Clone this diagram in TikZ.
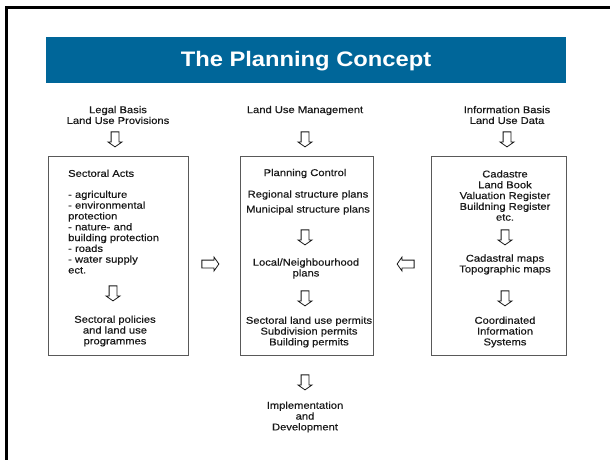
\documentclass[tikz,border=0pt]{standalone}
\usepackage{fontspec}
\setmainfont{Liberation Sans}[FakeStretch=1.13]
\newfontfamily\scanfont{Liberation Sans}[FakeStretch=1.13, FakeBold=0.35]
\usetikzlibrary{shapes.arrows}
\definecolor{titleblue}{RGB}{0,102,153}
\definecolor{inkgray}{RGB}{25,25,25}
\begin{document}
\begin{tikzpicture}[x=1pt,y=-1pt,
  txt/.style={font=\scanfont\fontsize{9.9}{10.8}\selectfont, align=center, inner sep=0pt, text=inkgray},
  txtl/.style={txt, align=left},
  panel/.style={draw=black!65, line width=0.9pt, minimum width=#1, minimum height=199pt, inner sep=0pt},
  downarr/.style={single arrow, draw=inkgray, line width=0.8pt, shape border rotate=270, minimum height=15pt, single arrow head extend=3pt, inner sep=3.5pt, single arrow tip angle=110},
  sidearr/.style={single arrow, draw=inkgray, line width=0.8pt, shape border rotate=#1, minimum height=17pt, single arrow head extend=3pt, inner sep=3.5pt, single arrow tip angle=110}
]
\useasboundingbox (0,0) rectangle (610,459);
\fill[white] (0,0) rectangle (610,459);
% frame
\draw[line width=2.2pt] (6.5,460) -- (6.5,7.5) -- (611,7.5);
% title
\node[fill=titleblue, minimum width=520pt, minimum height=46pt, inner sep=0pt] (title) at (306,60) {};
\node[font=\fontsize{21}{24}\selectfont\bfseries, text=white, inner sep=0pt] (titletext) at (306,61) {The Planning Concept};
% headers
\node[txt] (hL) at (118,115) {Legal Basis\\Land Use Provisions};
\node[txt] (hM) at (305,110.5) {Land Use Management};
\node[txt] (hR) at (507,115) {Information Basis\\Land Use Data};
\node[downarr] (aL) at (115,138) {};
\node[downarr] (aM) at (305,138) {};
\node[downarr] (aR) at (507,138) {};
% panels
\node[panel=140pt] (pL) at (118,255.5) {};
\node[panel=133pt] (pM) at (306.5,255.5) {};
\node[panel=135pt] (pR) at (498.5,255.5) {};
% left panel
\node[txtl, anchor=north west] (sa) at (68,169.5) {Sectoral Acts};
\node[txtl, anchor=north west] (list) at (68,190.5) {- agriculture\\- environmental\\protection\\- nature- and\\building protection\\- roads\\- water supply\\ect.};
\node[downarr] (aL2) at (113,292) {};
\node[txt] (sp) at (115,331) {Sectoral policies\\and land use\\programmes};
% middle panel
\node[txt] (pc) at (305,173.5) {Planning Control};
\node[txt, font=\scanfont\fontsize{9.9}{15}\selectfont] (rs) at (308,202.5) {Regional structure plans\\Municipal structure plans};
\node[downarr] (aM2) at (305,236) {};
\node[txt] (ln) at (306,268.5) {Local/Neighbourhood\\plans};
\node[downarr] (aM3) at (305,297) {};
\node[txt] (perm) at (309,332) {Sectoral land use permits\\Subdivision permits\\Building permits};
% right panel
\node[txt] (cad) at (505,195.5) {Cadastre\\Land Book\\Valuation Register\\Buildning Register\\etc.};
\node[downarr] (aR2) at (505,236) {};
\node[txt] (maps) at (505,264.5) {Cadastral maps\\Topographic maps};
\node[downarr] (aR3) at (505,297) {};
\node[txt] (cis) at (505,332) {Coordinated\\Information\\Systems};
% side arrows
\node[sidearr=0] (toM) at (209,264) {};
\node[sidearr=180] (fromR) at (407,264) {};
% bottom
\node[downarr] (aB) at (305,381) {};
\node[txt] (impl) at (305,417) {Implementation\\and\\Development};
\end{tikzpicture}
\end{document}
